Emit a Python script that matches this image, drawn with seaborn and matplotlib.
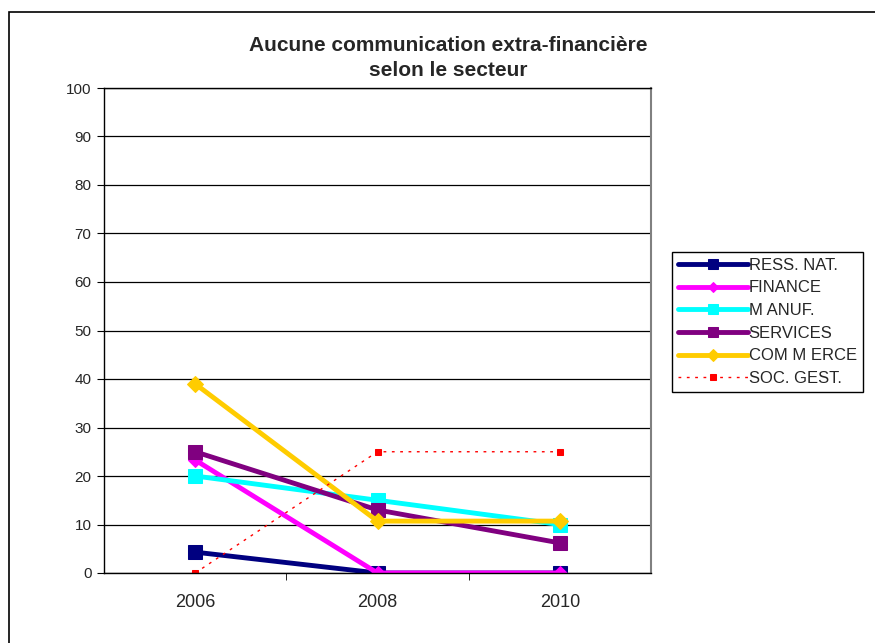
import numpy as np
import pandas as pd
import matplotlib.pyplot as plt
import seaborn as sns
from matplotlib.patches import Rectangle

years = ["2006", "2008", "2010"]
ress_nat = [4.3, 0, 0]
finance = [23.3, 0, 0]
manuf = [20, 15, 10]
services = [25, 13, 6.2]
commerce = [39, 10.7, 10.7]
soc_gest = [0, 25, 25]

series = ["RESS. NAT.", "FINANCE", "M ANUF.", "SERVICES", "COM M ERCE", "SOC. GEST."]
values = [ress_nat, finance, manuf, services, commerce, soc_gest]
colors = ["#000080", "#FF00FF", "#00FFFF", "#800080", "#FFCC00", "#FF0000"]
markers = ["s", "D", "s", "s", "D", "s"]
msizes = [10, 7, 10, 10, 8, 5]
widths = [3.5, 3.5, 3.5, 3.5, 3.5, 1.0]
styles = ["-", "-", "-", "-", "-", (0, (2, 4))]

sns.set_style("white")
plt.rcParams["font.family"] = ["Liberation Sans", "DejaVu Sans"]

fig = plt.figure(figsize=(8.75, 6.43), dpi=100)
ax = fig.add_axes([104 / 875, 1 - 573 / 643, (651 - 104) / 875, (573 - 88) / 643])

for name, vals, c, m, ms, lw, ls in zip(series, values, colors, markers, msizes, widths, styles):
    df = pd.DataFrame({"x": np.arange(len(years)), "y": vals})
    sns.lineplot(data=df, x="x", y="y", ax=ax, color=c, marker=m, markersize=ms,
                 markeredgecolor=c, linewidth=lw, linestyle=ls, label=name)

ax.set_xlim(-0.5, 2.5)
ax.set_ylim(0, 100)
ax.set_yticks(range(0, 101, 10))
ax.set_yticklabels([str(v) for v in range(0, 101, 10)], fontsize=11)
ax.set_xticks(range(len(years)))
ax.set_xticklabels(years, fontsize=13)
ax.set_xticks([0.5, 1.5], minor=True)
ax.tick_params(axis="x", which="major", length=0, pad=15)
ax.tick_params(axis="x", which="minor", length=5, direction="out", color="black", bottom=True)
ax.tick_params(axis="y", which="major", length=5, direction="out", color="black", left=True, pad=4)
ax.set_xlabel("")
ax.set_ylabel("")
ax.grid(axis="y", color="black", linewidth=0.9)
ax.set_axisbelow(True)
for s in ["left", "bottom", "top"]:
    ax.spines[s].set_color("black")
    ax.spines[s].set_linewidth(1.0)
ax.spines["right"].set_color("#808080")
ax.spines["right"].set_linewidth(1.5)

leg = ax.legend(loc="upper left", bbox_to_anchor=(672 / 875, 1 - 252 / 643),
                bbox_transform=fig.transFigure, frameon=True, fancybox=False,
                edgecolor="black", framealpha=1, fontsize=12, handlelength=4.2,
                handletextpad=0.05, labelspacing=0.46, borderpad=0.35, borderaxespad=0,
                numpoints=1)
leg.get_frame().set_linewidth(1.0)
for h, ms in zip(leg.legend_handles, [7, 5, 7, 7, 6, 4]):
    h.set_markersize(ms)

fig.text(0.512, 1 - 58 / 643, "Aucune communication extra-financière\nselon le secteur",
         ha="center", va="center", fontsize=15, fontweight="bold", linespacing=1.45)

fig.patches.append(Rectangle((9 / 875, -0.1), 1.2, 1 - 12 / 643 + 0.1, transform=fig.transFigure,
                             fill=False, edgecolor="black", linewidth=1.2))

fig.savefig("out.png", dpi=100)
